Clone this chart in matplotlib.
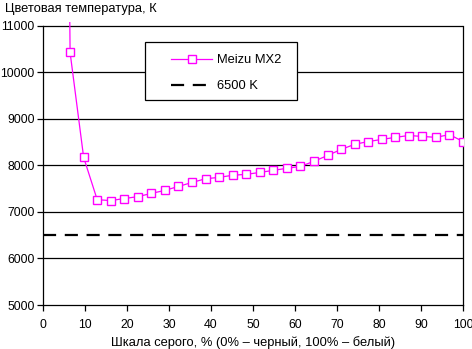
import matplotlib
matplotlib.use("Agg")
import matplotlib.pyplot as plt
from matplotlib.patches import Rectangle
import numpy as np

plt.rcParams['font.family'] = ['Liberation Sans', 'DejaVu Sans']
plt.rcParams['font.size'] = 8.5

# data: grey scale steps (0..100 in 31 intervals), colour temperature in K
steps = list(range(1, 32))
temps = [40000, 10430, 8175, 7265, 7245, 7290, 7330, 7400, 7465, 7550, 7635,
         7715, 7745, 7790, 7810, 7850, 7895, 7940, 7980, 8090, 8215, 8345,
         8455, 8515, 8560, 8605, 8645, 8625, 8605, 8665, 8515]
ref_temp = 6500
series_label = "Meizu MX2"
ref_label = "6500 K"
x_ticks = list(range(0, 101, 10))
y_ticks = list(range(5000, 11001, 1000))

x = np.array(steps) * 100 / 31

W, H = 472, 349
fig = plt.figure(figsize=(W / 100, H / 100), dpi=100)
ax = fig.add_axes([43 / W, 1 - 305 / H, 420 / W, (305 - 22) / H])

y_top = 11000 + 4 / 46.6 * 1000
ax.set_xlim(0, 100)
ax.set_ylim(5000, y_top)

for yv in y_ticks[1:]:
    ax.axhline(yv, color='black', lw=0.9, zorder=1)

ax.axhline(ref_temp, color='black', lw=1.6, dashes=(5.9, 3.9), zorder=2,
           label=ref_label)
ax.plot(x, temps, color='#ff00ff', lw=0.9, marker='s', markersize=5.2,
        markerfacecolor='white', markeredgecolor='#ff00ff',
        markeredgewidth=1.0, zorder=3, label=series_label)

ax.spines['top'].set_visible(False)
for s in ['left', 'right', 'bottom']:
    ax.spines[s].set_linewidth(0.9)
ax.spines['left'].set_bounds(5000, 11000)
ax.spines['right'].set_bounds(5000, 11000)

ax.set_xticks(x_ticks)
ax.set_yticks(y_ticks)
ax.tick_params(axis='both', direction='out', length=4, width=0.9,
               labelsize=8.8)
ax.tick_params(axis='x', pad=6)
ax.tick_params(axis='y', pad=2)

ax.set_xlabel("Шкала серого, % (0% – черный, 100% – белый)", labelpad=4,
              fontsize=9.3)
fig.text(5 / W, 1 - 9 / H, "Цветовая температура, К", ha='left', va='center',
         fontsize=9.3)

# legend box
box = Rectangle((145 / W, 1 - 100 / H), 152 / W, 58 / H,
                transform=fig.transFigure, facecolor='white',
                edgecolor='black', lw=0.9, zorder=4)
fig.add_artist(box)
handles, labels = ax.get_legend_handles_labels()
leg = fig.legend(handles[::-1], labels[::-1], loc='upper left',
                 bbox_to_anchor=(162 / W, 1 - 45 / H), frameon=False,
                 handlelength=3.2, handletextpad=0.35, labelspacing=1.1,
                 borderpad=0.2, fontsize=9.3)
leg.set_zorder(5)

fig.savefig("out.png", dpi=100)
